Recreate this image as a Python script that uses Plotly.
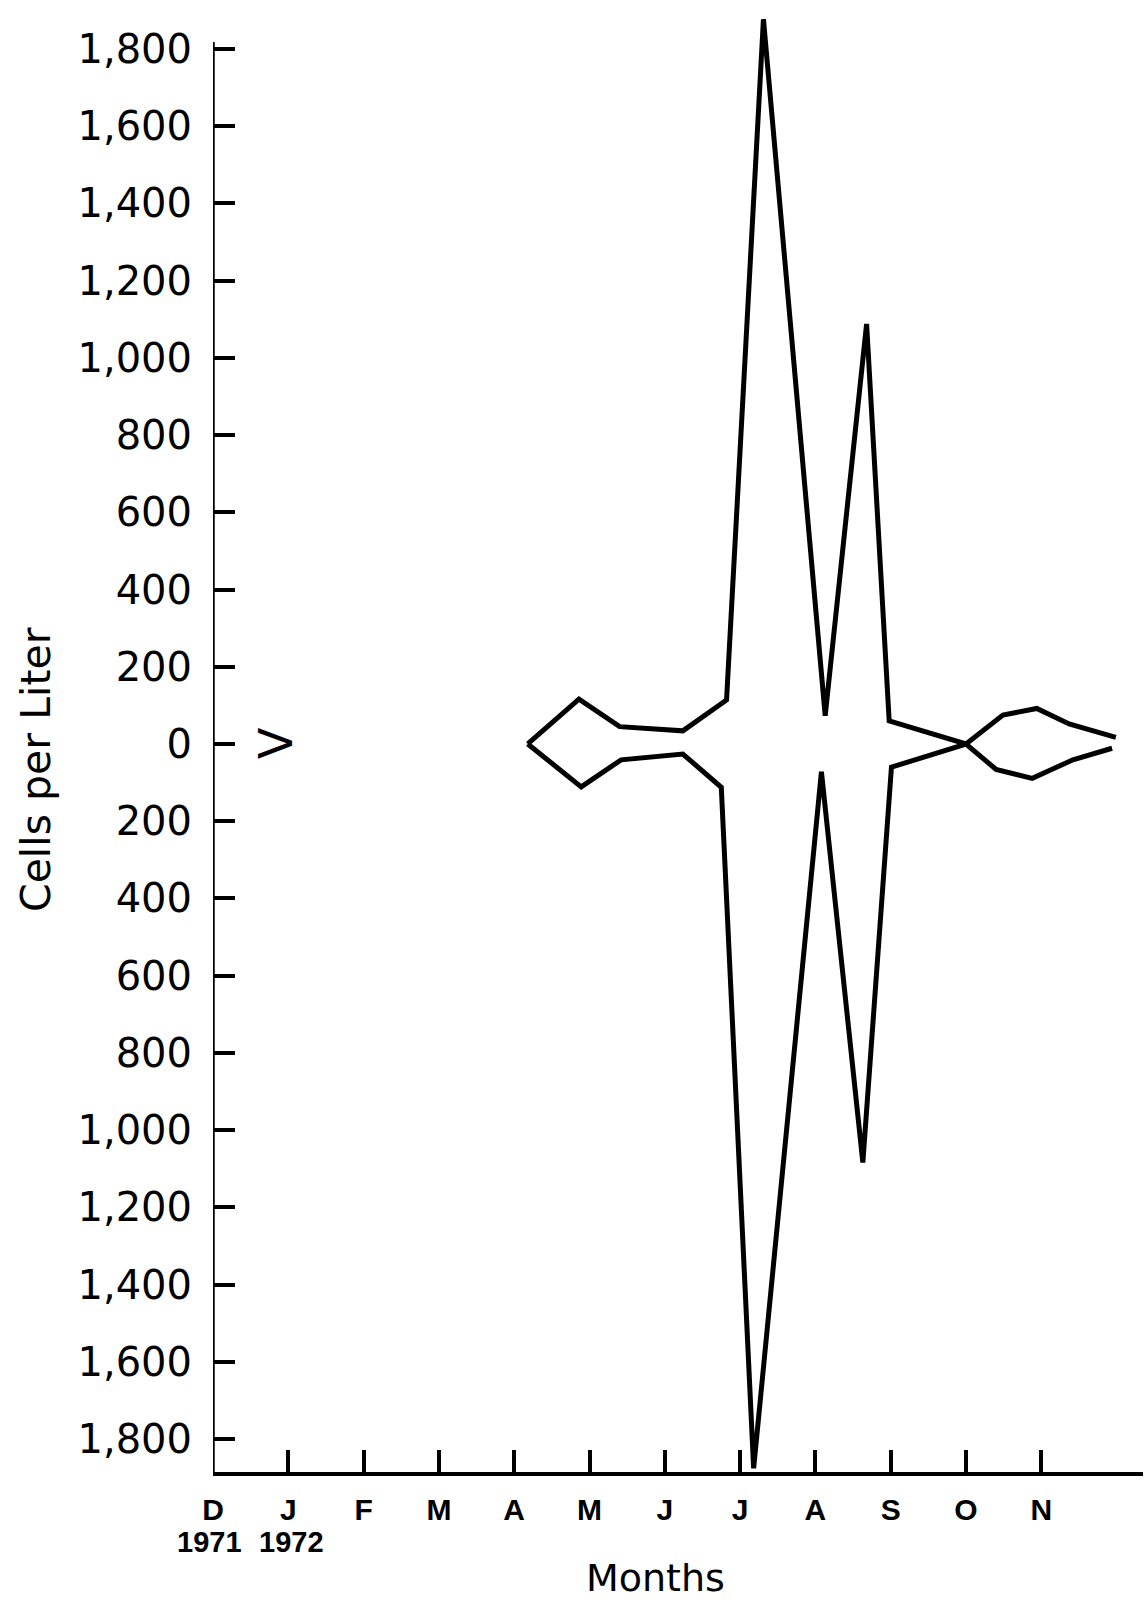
import plotly.graph_objects as go

# Kite diagram of cell density, Dec 1971 - Nov 1972.
# x positions are months after 1 Dec 1971; the kite edges are drawn as +/- half-widths.
month_labels = ["D", "J", "F", "M", "A", "M", "J", "J", "A", "S", "O", "N"]
year_labels = ["1971", "1972"]

upper_months = [4.18, 4.86, 5.40, 6.24, 6.82, 7.31, 8.13, 8.68, 8.98, 10.00, 10.49, 10.94, 11.37, 11.99]
upper_cells = [0, 116, 45, 34, 114, 1877, 73, 1088, 60, 0, 75, 92, 52, 17]

lower_months = [4.18, 4.89, 5.42, 6.24, 6.75, 7.18, 8.08, 8.63, 9.01, 10.00, 10.40, 10.88, 11.42, 11.94]
lower_cells = [0, 111, 41, 26, 112, 1876, 72, 1084, 60, 0, 66, 89, 41, 11]

y_ticks = list(range(-1800, 1801, 200))
y_text = [f"{abs(v):,}" for v in y_ticks]

W, H = 1145, 1600
ML, MR, MT, MB = 213, 2, 10, 128
PW, PH = W - ML - MR, H - MT - MB
Y_MIN, Y_MAX = -1885.5, 1901
X_MAX = PW / 75.3
AXIS_TOP = 1818

def px(x):
    return (x - ML) / PW

def py(y):
    return (H - MB - y) / PH

fig = go.Figure()
line_style = dict(color="black", width=5)
fig.add_trace(go.Scatter(x=upper_months, y=upper_cells, mode="lines",
                         line=line_style, showlegend=False, hoverinfo="skip"))
fig.add_trace(go.Scatter(x=lower_months, y=[-v for v in lower_cells], mode="lines",
                         line=line_style, showlegend=False, hoverinfo="skip"))

# vertical axis line (stops at the top tick while the kite may overshoot it)
fig.add_shape(type="line", xref="x", yref="y", x0=0, x1=0, y0=Y_MIN, y1=AXIS_TOP,
              line=dict(color="black", width=3.5))

annotations = [
    dict(text="Cells per Liter", x=px(36), y=py(770), textangle=-90,
         font=dict(family="DejaVu Sans", size=41, color="black")),
    dict(text="V", x=px(276), y=py(743), textangle=-90,
         font=dict(family="DejaVu Sans", size=46, color="black")),
    dict(text="Months", x=px(655), y=py(1578),
         font=dict(family="DejaVu Sans", size=38, color="black")),
    dict(text=year_labels[0], x=px(209), y=py(1542),
         font=dict(family="Liberation Sans", size=29, color="black", weight="bold")),
    dict(text=year_labels[1], x=px(291), y=py(1542),
         font=dict(family="Liberation Sans", size=29, color="black", weight="bold")),
]
for a in annotations:
    a.update(xref="paper", yref="paper", showarrow=False, xanchor="center", yanchor="middle")

fig.update_layout(
    width=W, height=H,
    margin=dict(l=ML, r=MR, t=MT, b=MB),
    paper_bgcolor="white", plot_bgcolor="white",
    annotations=annotations,
    xaxis=dict(
        range=[0, X_MAX], showgrid=False, zeroline=False,
        showline=True, linecolor="black", linewidth=3.5,
        tickmode="array", tickvals=list(range(12)), ticktext=month_labels,
        ticks="inside", ticklen=22, tickwidth=3.5, tickcolor="black",
        ticklabelstandoff=8,
        tickfont=dict(family="Liberation Sans", size=30, color="black", weight="bold"),
    ),
    yaxis=dict(
        range=[Y_MIN, Y_MAX], showgrid=False, zeroline=False, showline=False,
        tickmode="array", tickvals=y_ticks, ticktext=y_text,
        ticks="inside", ticklen=22, tickwidth=3.5, tickcolor="black",
        ticklabelstandoff=20,
        tickfont=dict(family="DejaVu Sans", size=40, color="black"),
    ),
)

fig.write_html("out.html")
